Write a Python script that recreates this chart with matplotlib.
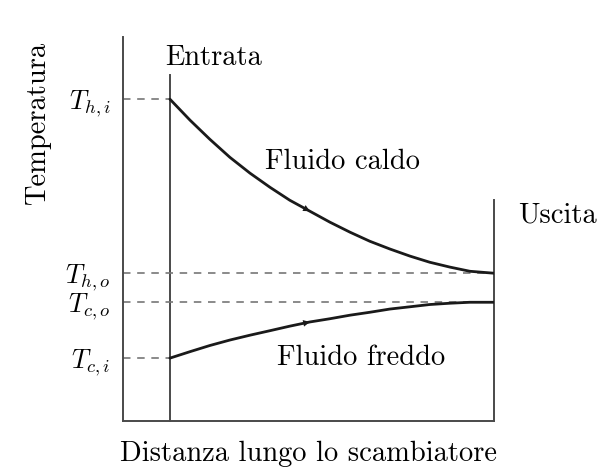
import matplotlib
matplotlib.use("Agg")
import matplotlib.pyplot as plt

plt.rcParams['mathtext.fontset'] = 'cm'
plt.rcParams['font.family'] = 'cmr10'
plt.rcParams['axes.unicode_minus'] = False

# distance along exchanger (0 = inlet, 1 = outlet), temperature in arbitrary units
dist = [0.0, 0.062, 0.123, 0.185, 0.247, 0.309, 0.370, 0.432, 0.494,
        0.556, 0.617, 0.679, 0.741, 0.802, 0.864, 0.926, 1.0]
hot = [99.7, 93.2, 87.3, 81.7, 76.8, 72.4, 68.4, 65.0, 61.6,
       58.5, 55.7, 53.3, 51.1, 49.2, 47.7, 46.4, 45.8]
cold = [19.5, 21.5, 23.4, 25.1, 26.6, 28.0, 29.4, 30.7, 31.7,
        32.8, 33.7, 34.7, 35.4, 36.1, 36.5, 36.8, 36.8]

T_hi, T_ho, T_co, T_ci = hot[0], hot[-1], cold[-1], cold[0]
tick_vals = [T_hi, T_ho, T_co, T_ci]
tick_labels = [r'$T_{h,i}$', r'$T_{h,o}$', r'$T_{c,o}$', r'$T_{c,i}$']

axis_col = '#4a4a4a'
curve_col = '#1a1a1a'
dash_col = '#777777'
fs = 20.5

fig = plt.figure(figsize=(6.07, 4.71), dpi=100)
ax = fig.add_axes([0.2026, 0.106, 0.611, 0.815])
ax.set_xlim(-0.145, 1.0)
ax.set_ylim(0, 118.9)

for side in ['top', 'right']:
    ax.spines[side].set_visible(False)
for side in ['left', 'bottom']:
    ax.spines[side].set_color(axis_col)
    ax.spines[side].set_linewidth(1.4)

ax.set_xticks([])
ax.set_yticks(tick_vals, tick_labels, fontsize=19)
ax.tick_params(axis='y', length=0, pad=9)

# inlet / outlet lines
ax.plot([0, 0], [0, 107.1], color=axis_col, lw=1.4, clip_on=False)
ax.plot([1, 1], [0, 68.4], color=axis_col, lw=1.4, clip_on=False)

# dashed reference lines
dash = (0, (4.5, 4))
ax.plot([-0.145, 0], [T_hi, T_hi], color=dash_col, lw=1.2, linestyle=dash)
ax.plot([-0.145, 1], [T_ho, T_ho], color=dash_col, lw=1.2, linestyle=dash)
ax.plot([-0.145, 1], [T_co, T_co], color=dash_col, lw=1.2, linestyle=dash)
ax.plot([-0.145, 0], [T_ci, T_ci], color=dash_col, lw=1.2, linestyle=dash)

# fluid curves
ax.plot(dist, hot, color=curve_col, lw=2.0, solid_capstyle='round')
ax.plot(dist, cold, color=curve_col, lw=2.0, solid_capstyle='round')

# flow direction arrows
for ys in (hot, cold):
    ax.annotate('', xy=(dist[7], ys[7]), xytext=(dist[6], ys[6]),
                arrowprops=dict(arrowstyle='-|>', color=curve_col, lw=0,
                                mutation_scale=12, shrinkA=0, shrinkB=0))

ax.text(-0.015, 112.4, 'Entrata', fontsize=fs, va='center', ha='left')
ax.text(0.293, 80.2, 'Fluido caldo', fontsize=fs, va='center', ha='left')
ax.text(1.074, 63.8, 'Uscita', fontsize=fs, va='center', ha='left', clip_on=False)
ax.text(0.330, 19.5, 'Fluido freddo', fontsize=fs, va='center', ha='left')

ax.set_xlabel('Distanza lungo lo scambiatore', fontsize=fs, labelpad=14)
fig.text(38 / 607, 1 - 123 / 471, 'Temperatura', fontsize=fs, rotation=90,
         va='center', ha='center')

fig.savefig('out.png', dpi=100)
